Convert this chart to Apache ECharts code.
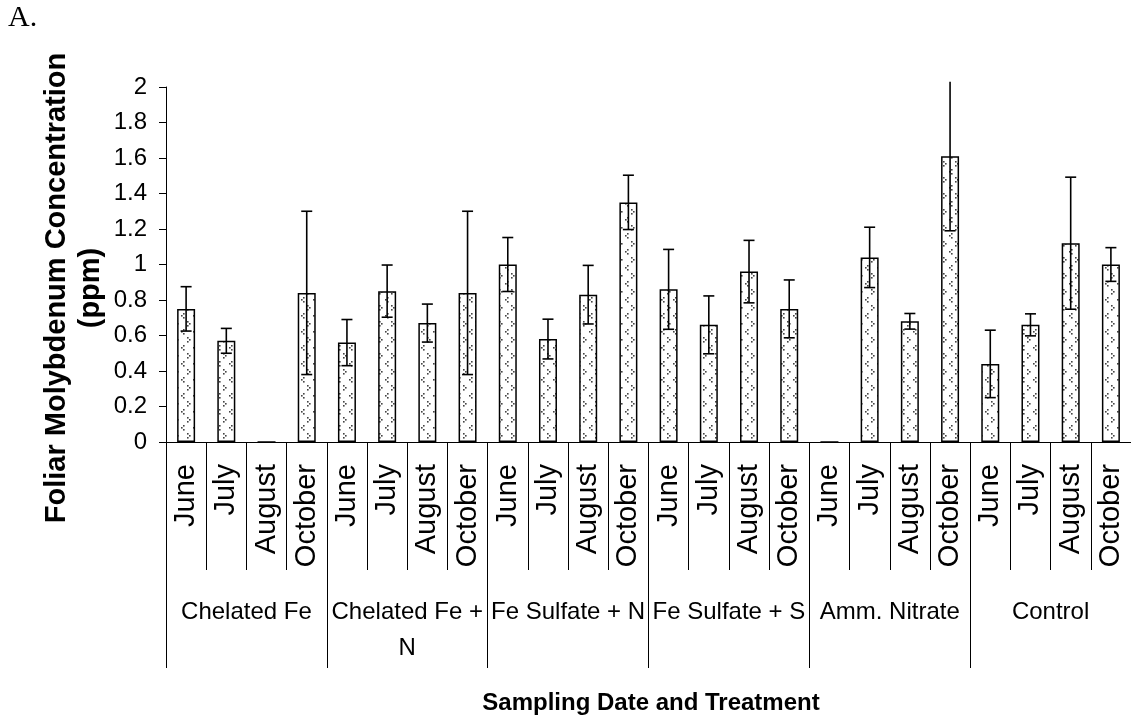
<!DOCTYPE html>
<html>
<head>
<meta charset="utf-8">
<script src="https://cdn.jsdelivr.net/npm/echarts@6/dist/echarts.min.js"></script>
<style>
html,body{margin:0;padding:0;background:#fff;}
#chart{width:1131px;height:723px;}
</style>
</head>
<body>
<div id="chart"></div>
<script>
// ---- data ----
const treatments = ['Chelated Fe', 'Chelated Fe +\nN', 'Fe Sulfate + N', 'Fe Sulfate + S', 'Amm. Nitrate', 'Control'];
const months = ['June', 'July', 'August', 'October'];
const means = [0.75, 0.57, 0, 0.84,
               0.56, 0.85, 0.67, 0.84,
               1.00, 0.58, 0.83, 1.35,
               0.86, 0.66, 0.96, 0.75,
               0, 1.04, 0.68, 1.61,
               0.44, 0.66, 1.12, 1.00];
const errors = [0.125, 0.07, 0, 0.46,
                0.13, 0.147, 0.107, 0.46,
                0.152, 0.112, 0.165, 0.153,
                0.225, 0.163, 0.176, 0.163,
                0, 0.17, 0.044, 0.42,
                0.19, 0.062, 0.372, 0.095];
const yTicks = [0, 0.2, 0.4, 0.6, 0.8, 1, 1.2, 1.4, 1.6, 1.8, 2];

// category list (month under each treatment)
const monthCats = [];
treatments.forEach(() => months.forEach(m => monthCats.push(m)));

// pattern tile for bars
const tile = document.createElement('canvas');
tile.width = 12; tile.height = 16;
(function () {
  const c = tile.getContext('2d');
  c.fillStyle = '#fff';
  c.fillRect(0, 0, 12, 16);
  c.fillStyle = '#444';
  // ">" mark
  c.fillRect(7, 1, 1.6, 1.6);
  c.fillRect(9, 3, 1.6, 1.6);
  c.fillRect(7, 5, 1.6, 1.6);
  // "<" mark
  c.fillRect(3, 9, 1.6, 1.6);
  c.fillRect(1, 11, 1.6, 1.6);
  c.fillRect(3, 13, 1.6, 1.6);
})();

const regular = "'Liberation Sans', Arial, sans-serif";

const errData = means.map((m, i) => [i, m - errors[i], m + errors[i]]);

const chart = echarts.init(document.getElementById('chart'), null, { renderer: 'canvas' });
chart.setOption({
  animation: false,
  backgroundColor: '#fff',
  grid: { left: 166, top: 87, width: 969, height: 355, containLabel: false },
  xAxis: [
    {
      type: 'category', data: monthCats, position: 'bottom', gridIndex: 0,
      axisLine: { show: true, lineStyle: { color: '#000', width: 1 } },
      axisTick: { show: true, interval: 0, length: 128, lineStyle: { color: '#000', width: 1 } },
      axisLabel: { interval: 0, rotate: 90, margin: 22, fontSize: 29, fontFamily: regular, color: '#000' },
      splitLine: { show: false }
    },
    {
      type: 'category', data: treatments, position: 'bottom', gridIndex: 0,
      axisLine: { show: false },
      axisTick: { show: true, interval: 0, length: 226, lineStyle: { color: '#000', width: 1 } },
      axisLabel: { interval: 0, margin: 152, fontSize: 24, lineHeight: 36, fontFamily: regular, color: '#000' },
      splitLine: { show: false }
    }
  ],
  yAxis: {
    type: 'value', min: 0, max: 2, interval: 0.2,
    axisLine: { show: true, lineStyle: { color: '#000', width: 1 } },
    axisTick: { show: true, length: 7, lineStyle: { color: '#000', width: 1 } },
    axisLabel: {
      margin: 19, fontSize: 24, fontFamily: regular, color: '#000',
      formatter: v => { const t = yTicks.find(k => Math.abs(k - v) < 1e-6); return String(t !== undefined ? t : v); }
    },
    splitLine: { show: false }
  },
  series: [
    {
      type: 'bar', xAxisIndex: 0, yAxisIndex: 0, data: means, barWidth: 18,
      itemStyle: { color: { image: tile, repeat: 'repeat' }, borderColor: '#000', borderWidth: 1.5 },
      emphasis: { disabled: true }
    },
    {
      type: 'custom', xAxisIndex: 0, yAxisIndex: 0, data: errData, clip: false, z: 5,
      renderItem: function (params, api) {
        const x = api.value(0), lo = api.value(1), hi = api.value(2);
        if (!(hi > lo)) return null;
        const pHi = api.coord([x, hi]);
        const pLo = api.coord([x, lo]);
        const cap = 5.5;
        const st = { stroke: '#000', lineWidth: 1.6 };
        const children = [
          { type: 'line', shape: { x1: pHi[0], y1: pHi[1], x2: pLo[0], y2: pLo[1] }, style: st },
          { type: 'line', shape: { x1: pLo[0] - cap, y1: pLo[1], x2: pLo[0] + cap, y2: pLo[1] }, style: st }
        ];
        if (hi <= 2) {
          children.push({ type: 'line', shape: { x1: pHi[0] - cap, y1: pHi[1], x2: pHi[0] + cap, y2: pHi[1] }, style: st });
        }
        return { type: 'group', children: children };
      }
    }
  ],
  graphic: [
    { type: 'text', x: 8, y: 18, style: { text: 'A.', font: "30px 'Liberation Serif', 'Times New Roman', serif", fill: '#000', verticalAlign: 'middle', align: 'left' } },
    { type: 'text', x: 651, y: 703, style: { text: 'Sampling Date and Treatment', font: "bold 24px " + regular, fill: '#000', align: 'center', verticalAlign: 'middle' } },
    { type: 'text', x: 74, y: 288, rotation: Math.PI / 2,
      style: { text: 'Foliar Molybdenum Concentration\n(ppm)', font: "bold 29px " + regular, fill: '#000', align: 'center', verticalAlign: 'middle', lineHeight: 34 } }
  ]
});
</script>
</body>
</html>
